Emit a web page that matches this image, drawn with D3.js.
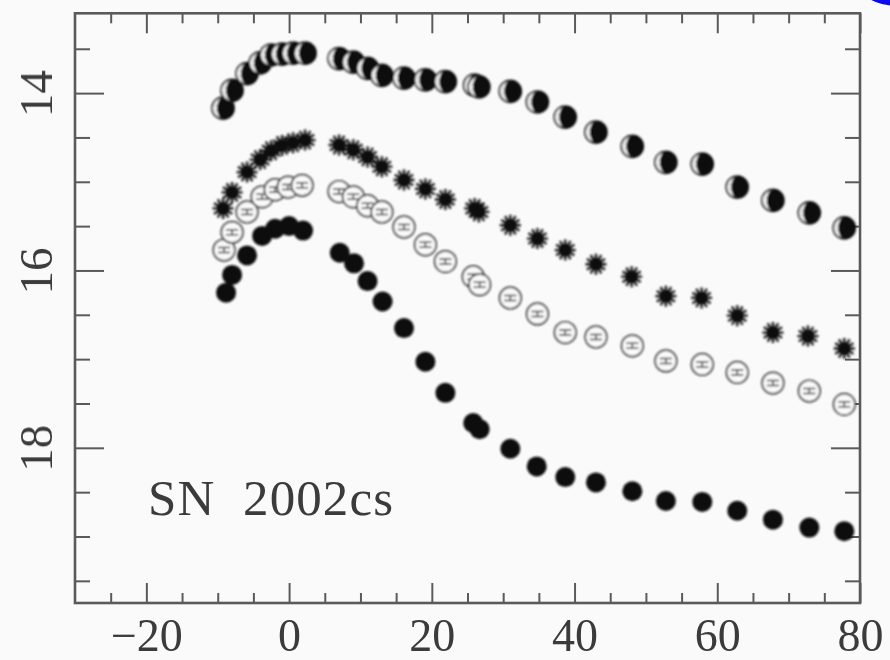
<!DOCTYPE html>
<html>
<head>
<meta charset="utf-8">
<script src="https://cdn.jsdelivr.net/npm/d3@7"></script>
<style>
  html, body { margin: 0; padding: 0; background: #fafafa; }
  svg { display: block; }
</style>
</head>
<body>
<svg id="chart" width="890" height="660"></svg>
<script>
// Light curves of SN 2002cs: days from maximum vs. magnitude, four bands.
const labelText = "SN  2002cs";

const xMajorTicks = [-20, 0, 20, 40, 60, 80];
const xMinorTicks = [-25, -15, -10, -5, 5, 10, 15, 25, 30, 35, 45, 50, 55, 65, 70, 75];
const yMajorTicks = [14, 16, 18];
const yMinorTicks = [13.5, 14.5, 15, 15.5, 16.5, 17, 17.5, 18.5, 19, 19.5];

// Half-filled circles (brightest band)
const halfDays = [-9.25, -7.99, -5.89, -4.06, -2.52, -0.98, 0.56, 2.24, 7.0, 9.0, 11.0, 13.0, 16.1, 19.1, 21.9, 26.0, 26.6, 31.0, 34.8, 38.7, 43.0, 48.1, 52.8, 57.9, 62.8, 67.8, 72.9, 77.8];
const halfMags = [14.17, 13.97, 13.78, 13.66, 13.57, 13.56, 13.55, 13.55, 13.61, 13.65, 13.72, 13.80, 13.83, 13.85, 13.87, 13.91, 13.93, 13.98, 14.10, 14.27, 14.44, 14.60, 14.78, 14.80, 15.06, 15.21, 15.35, 15.52];

// Asterisks
const starDays = [-9.25, -7.99, -5.89, -4.06, -2.52, -0.98, 0.56, 2.24, 7.0, 9.0, 11.0, 13.0, 16.1, 19.1, 21.9, 26.0, 26.6, 31.0, 34.8, 38.7, 43.0, 48.0, 52.8, 57.8, 62.8, 67.8, 72.7, 77.8];
const starMags = [15.30, 15.12, 14.89, 14.75, 14.65, 14.59, 14.56, 14.53, 14.585, 14.64, 14.72, 14.83, 14.98, 15.08, 15.20, 15.30, 15.34, 15.49, 15.64, 15.77, 15.93, 16.07, 16.29, 16.31, 16.51, 16.70, 16.74, 16.88];

// Open circles
const openDays = [-9.11, -7.99, -5.89, -3.78, -1.96, -0.14, 1.82, 7.0, 9.0, 11.0, 13.0, 16.1, 19.1, 21.9, 25.8, 26.7, 31.0, 34.8, 38.7, 43.0, 48.1, 52.8, 57.9, 62.8, 67.8, 72.9, 77.8];
const openMags = [15.77, 15.57, 15.34, 15.17, 15.09, 15.06, 15.04, 15.11, 15.17, 15.27, 15.34, 15.51, 15.71, 15.90, 16.07, 16.16, 16.31, 16.49, 16.70, 16.75, 16.85, 17.02, 17.06, 17.15, 17.27, 17.36, 17.51];

// Filled circles (faintest band)
const fullDays = [-8.83, -7.99, -5.89, -3.78, -1.96, 0.0, 1.96, 7.1, 9.1, 11.0, 13.1, 16.1, 19.1, 21.9, 25.8, 26.7, 31.0, 34.7, 38.7, 43.0, 48.1, 52.8, 57.9, 62.8, 67.8, 72.9, 77.8];
const fullMags = [16.25, 16.05, 15.83, 15.61, 15.53, 15.50, 15.55, 15.80, 15.92, 16.12, 16.35, 16.65, 17.03, 17.38, 17.72, 17.79, 18.01, 18.21, 18.33, 18.39, 18.49, 18.60, 18.61, 18.71, 18.81, 18.90, 18.94];

const svg = d3.select("#chart");
const W = 890, H = 660;
const frameLeft = 75, frameRight = 860, frameTop = 13.3, frameBottom = 603;

const x = d3.scaleLinear().domain([-30, 80]).range([frameLeft, frameRight]);
const y = d3.scaleLinear().domain([13.1, 19.75]).range([frameTop, frameBottom]);

svg.append("rect").attr("width", W).attr("height", H).attr("fill", "#fafafa");

const defs = svg.append("defs");
defs.append("filter").attr("id", "soft")
  .attr("x", "-20%").attr("y", "-20%").attr("width", "140%").attr("height", "140%")
  .append("feGaussianBlur").attr("stdDeviation", 0.8);
defs.append("filter").attr("id", "softText")
  .append("feGaussianBlur").attr("stdDeviation", 0.45);

// blue corner blob
svg.append("circle").attr("cx", 893).attr("cy", -40).attr("r", 45.5)
  .attr("fill", "#0a0af0");

const axisColor = "#5a5a5a";
const fontFamily = "'Liberation Serif', 'Times New Roman', serif";

function styleAxis(g) {
  g.select(".domain").remove();
  g.selectAll(".tick line").attr("stroke", axisColor).attr("stroke-width", 2);
}

// ticks pointing into the frame
const axes = svg.append("g").attr("class", "axes");

axes.append("g").attr("transform", `translate(0,${frameBottom})`)
  .call(d3.axisBottom(x).tickValues(xMinorTicks).tickSize(-10).tickFormat(""))
  .call(styleAxis);
axes.append("g").attr("transform", `translate(0,${frameTop})`)
  .call(d3.axisTop(x).tickValues(xMinorTicks).tickSize(-10).tickFormat(""))
  .call(styleAxis);
axes.append("g").attr("transform", `translate(0,${frameTop})`)
  .call(d3.axisTop(x).tickValues(xMajorTicks).tickSize(-20).tickFormat(""))
  .call(styleAxis);
const xBottom = axes.append("g").attr("transform", `translate(0,${frameBottom})`)
  .call(d3.axisBottom(x).tickValues(xMajorTicks).tickSize(-20).tickPadding(0).tickFormat(d3.format("d")))
  .call(styleAxis);
xBottom.selectAll(".tick text")
  .attr("y", 48).attr("dy", 0)
  .attr("font-family", fontFamily).attr("font-size", 46)
  .attr("fill", "#3a3a3a").attr("filter", "url(#softText)");

axes.append("g").attr("transform", `translate(${frameLeft},0)`)
  .call(d3.axisLeft(y).tickValues(yMinorTicks).tickSize(-15).tickFormat(""))
  .call(styleAxis);
axes.append("g").attr("transform", `translate(${frameRight},0)`)
  .call(d3.axisRight(y).tickValues(yMinorTicks).tickSize(-15).tickFormat(""))
  .call(styleAxis);
axes.append("g").attr("transform", `translate(${frameRight},0)`)
  .call(d3.axisRight(y).tickValues(yMajorTicks).tickSize(-29).tickFormat(""))
  .call(styleAxis);
const yLeft = axes.append("g").attr("transform", `translate(${frameLeft},0)`)
  .call(d3.axisLeft(y).tickValues(yMajorTicks).tickSize(-29).tickFormat(d3.format("d")))
  .call(styleAxis);
yLeft.selectAll(".tick text")
  .attr("x", null).attr("dy", null)
  .attr("transform", "translate(-23,0) rotate(-90)")
  .attr("text-anchor", "middle")
  .attr("font-family", fontFamily).attr("font-size", 47)
  .attr("fill", "#3a3a3a").attr("filter", "url(#softText)");

// frame
svg.append("rect")
  .attr("x", frameLeft).attr("y", frameTop)
  .attr("width", frameRight - frameLeft).attr("height", frameBottom - frameTop)
  .attr("fill", "none").attr("stroke", axisColor).attr("stroke-width", 2.6);

// object name
svg.append("text")
  .attr("x", 148).attr("y", 515)
  .attr("xml:space", "preserve")
  .style("white-space", "pre")
  .attr("font-family", fontFamily).attr("font-size", 51)
  .attr("fill", "#3a3a3a").attr("filter", "url(#softText)")
  .attr("textLength", 245).attr("lengthAdjust", "spacing")
  .text(labelText);

const plot = svg.append("g").attr("filter", "url(#soft)");

function points(days, mags) {
  return days.map((d, i) => ({ t: d, m: mags[i] }));
}

// filled circles
plot.append("g").selectAll("circle")
  .data(points(fullDays, fullMags)).join("circle")
  .attr("cx", d => x(d.t)).attr("cy", d => y(d.m))
  .attr("r", 10).attr("fill", "#111");

// open circles with small error bars
const openG = plot.append("g").selectAll("g")
  .data(points(openDays, openMags)).join("g")
  .attr("transform", d => `translate(${x(d.t)},${y(d.m)})`);
openG.append("circle").attr("r", 10.8)
  .attr("fill", "#fafafa").attr("stroke", "#333").attr("stroke-width", 1.7);
openG.append("path")
  .attr("d", "M-6,-2.5H6M-6,2.5H6M0,-2.5V2.5")
  .attr("stroke", "#333").attr("stroke-width", 1.5).attr("fill", "none");

// asterisks
const starPath = d3.range(12).map(i => {
  const a = i * Math.PI / 6;
  return `M0,0L${(10.5 * Math.cos(a)).toFixed(2)},${(10.5 * Math.sin(a)).toFixed(2)}`;
}).join("");
const starG = plot.append("g").selectAll("g")
  .data(points(starDays, starMags)).join("g")
  .attr("transform", d => `translate(${x(d.t)},${y(d.m)})`);
starG.append("path").attr("d", starPath)
  .attr("stroke", "#111").attr("stroke-width", 2.3).attr("fill", "none");
starG.append("circle").attr("r", 6.5).attr("fill", "#111");

// half-filled circles
const halfG = plot.append("g").selectAll("g")
  .data(points(halfDays, halfMags)).join("g")
  .attr("transform", d => `translate(${x(d.t)},${y(d.m)})`);
halfG.append("circle").attr("r", 11)
  .attr("fill", "#f2f2f2").attr("stroke", "#1a1a1a").attr("stroke-width", 1.7);
halfG.append("path")
  .attr("d", "M-7,-2H4M-7,2H4M-1,-11V11")
  .attr("stroke", "#777").attr("stroke-width", 1.3);
halfG.append("path")
  .attr("d", "M0,-11A11,11 0 0,1 0,11A6,11 0 0,1 0,-11Z")
  .attr("fill", "#111");
</script>
</body>
</html>
